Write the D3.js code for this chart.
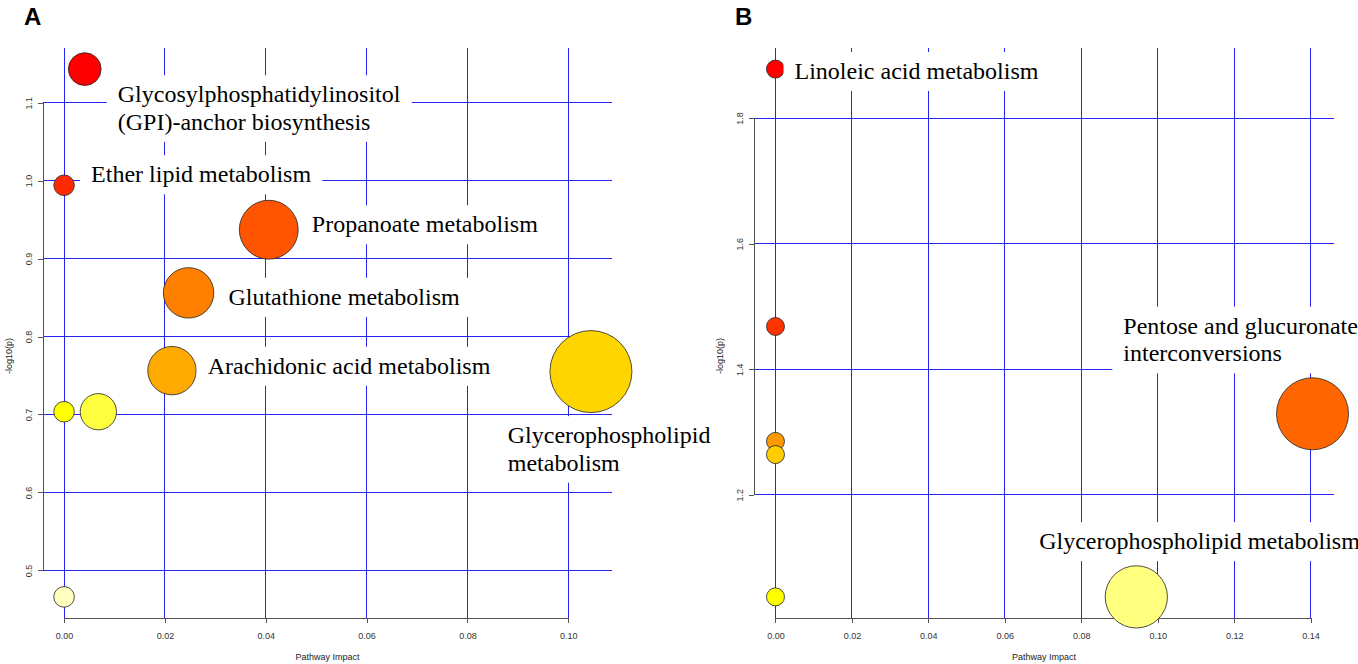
<!DOCTYPE html>
<html>
<head>
<meta charset="utf-8">
<script src="https://cdn.jsdelivr.net/npm/d3@7"></script>
<style>
  body { margin: 0; background: #fff; }
  svg { display: block; }
</style>
</head>
<body>
<svg width="1358" height="664"></svg>
<script>
// ---- panel A data ----
var impactA = [0.0041, 0, 0.0406, 0.0247, 0.0214, 0.1045, 0, 0.0068, 0];
var logpA   = [1.143, 0.994, 0.937, 0.856, 0.7562, 0.755, 0.7035, 0.7035, 0.466];
var xTicksA = [0, 0.02, 0.04, 0.06, 0.08, 0.10];
var yTicksA = [0.5, 0.6, 0.7, 0.8, 0.9, 1.0, 1.1];
// label text, anchored in data units (x of text start, y of first baseline)
var labelsA = [
  { lines: ["Glycosylphosphatidylinositol", "(GPI)-anchor biosynthesis"], x: 0.01065, y: 1.1004 },
  { lines: ["Ether lipid metabolism"], x: 0.00536, y: 0.9978 },
  { lines: ["Propanoate metabolism"], x: 0.04915, y: 0.9337 },
  { lines: ["Glutathione metabolism"], x: 0.0326, y: 0.8406 },
  { lines: ["Arachidonic acid metabolism"], x: 0.0285, y: 0.7522 },
  { lines: ["Glycerophospholipid", "metabolism"], x: 0.0880, y: 0.6632 }
];

// ---- panel B data ----
var impactB = [0, 0, 0.1405, 0, 0, 0, 0.0944];
var logpB   = [1.878, 1.468, 1.329, 1.285, 1.264, 1.0373, 1.0373];
var xTicksB = [0, 0.02, 0.04, 0.06, 0.08, 0.10, 0.12, 0.14];
var yTicksB = [1.2, 1.4, 1.6, 1.8];
var labelsB = [
  { lines: ["Linoleic acid metabolism"], x: 0.00498, y: 1.8622 },
  { lines: ["Pentose and glucuronate", "interconversions"], x: 0.0910, y: 1.4565 },
  { lines: ["Glycerophospholipid metabolism"], x: 0.0690, y: 1.1134 }
];

var svg = d3.select("svg");
svg.append("rect").attr("width", 1358).attr("height", 664).attr("fill", "#fff");

// R style heat.colors(n)
function hsv(h, s, v) {
  var i = Math.floor(h * 6), f = h * 6 - i;
  var p = v * (1 - s), q = v * (1 - s * f), t = v * (1 - s * (1 - f));
  var rgb = [[v, t, p], [q, v, p], [p, v, t], [p, q, v], [t, p, v], [v, p, q]][i % 6];
  return d3.rgb(rgb[0] * 255, rgb[1] * 255, rgb[2] * 255).formatHex();
}
function heatColors(n) {
  var j = Math.floor(n / 4), i = n - j, out = [];
  for (var k = 0; k < i; k++) out.push(hsv(i > 1 ? k / (i - 1) / 6 : 0, 1, 1));
  for (var k = 0; k < j; k++) {
    var s0 = 1 - 1 / (2 * j), s1 = 1 / (2 * j);
    out.push(hsv(1 / 6, j > 1 ? s0 + (s1 - s0) * k / (j - 1) : s0, 1));
  }
  return out;
}

function pad(ext) {
  var d = (ext[1] - ext[0]) * 0.04;
  return [ext[0] - d, ext[1] + d];
}

function drawPanel(letter, impact, logp, xTicks, yTicks, labels, box, rRange) {
  var g = svg.append("g");
  var x = d3.scaleLinear().domain(pad(d3.extent(impact))).range([box.left, box.right]);
  var y = d3.scaleLinear().domain(pad(d3.extent(logp))).range([box.bottom, box.top]);
  var r = d3.scaleSqrt().domain([0, d3.max(impact)]).range(rRange);

  // colours by rank of -log10(p)
  var pts = impact.map(function(d, i) { return { impact: d, logp: logp[i] }; });
  var ranked = pts.slice().sort(function(a, b) { return b.logp - a.logp; });
  var cols = heatColors(pts.length);
  ranked.forEach(function(p, i) { p.color = cols[i]; });

  // grid
  g.selectAll(".vg").data(xTicks).enter().append("line")
    .attr("x1", function(d) { return x(d); }).attr("x2", function(d) { return x(d); })
    .attr("y1", box.top).attr("y2", box.bottom)
    .style("stroke", "#2424f4").style("stroke-width", 1).style("shape-rendering", "crispEdges");
  g.selectAll(".hg").data(yTicks).enter().append("line")
    .attr("x1", box.left).attr("x2", box.right)
    .attr("y1", function(d) { return y(d); }).attr("y2", function(d) { return y(d); })
    .style("stroke", "#2424f4").style("stroke-width", 1).style("shape-rendering", "crispEdges");

  // axes
  var xa = g.append("g").attr("transform", "translate(0," + box.bottom + ")")
    .call(d3.axisBottom(x).tickValues(xTicks).tickFormat(d3.format(".2f")).tickSize(5).tickSizeOuter(0).tickPadding(9.5));
  var ya = g.append("g").attr("transform", "translate(" + box.left + ",0)")
    .call(d3.axisLeft(y).tickValues(yTicks).tickFormat(d3.format(".1f")).tickSize(5).tickSizeOuter(0));
  [xa, ya].forEach(function(a) {
    a.select(".domain").remove();
    a.selectAll("line").style("stroke", "#555").style("shape-rendering", "crispEdges");
    a.selectAll("text").style("font-family", "'Liberation Sans', Arial, sans-serif")
      .style("font-size", "9px").style("fill", "#333");
  });
  ya.selectAll("text").attr("x", null).attr("dy", null).attr("text-anchor", "middle")
    .attr("transform", "translate(-11.5,0) rotate(-90)");
  g.append("line").attr("x1", x(xTicks[0])).attr("x2", x(xTicks[xTicks.length - 1]))
    .attr("y1", box.bottom).attr("y2", box.bottom).style("stroke", "#555").style("shape-rendering", "crispEdges");
  g.append("line").attr("x1", box.left).attr("x2", box.left)
    .attr("y1", y(yTicks[0])).attr("y2", y(yTicks[yTicks.length - 1])).style("stroke", "#555").style("shape-rendering", "crispEdges");

  g.append("text").text("Pathway Impact")
    .attr("x", (box.left + box.right) / 2).attr("y", 660).attr("text-anchor", "middle")
    .style("font-family", "'Liberation Sans', Arial, sans-serif").style("font-size", "9px").style("fill", "#222");
  g.append("text").text("-log10(p)")
    .attr("transform", "translate(" + (box.left - 31.5) + ",356) rotate(-90)").attr("text-anchor", "middle")
    .style("font-family", "'Liberation Sans', Arial, sans-serif").style("font-size", "9px").style("fill", "#222");

  // bubbles
  g.selectAll("circle").data(pts).enter().append("circle")
    .attr("cx", function(d) { return x(d.impact); })
    .attr("cy", function(d) { return y(d.logp); })
    .attr("r", function(d) { return r(d.impact); })
    .style("fill", function(d) { return d.color; })
    .style("stroke", "#222").style("stroke-width", 0.8);

  // labels on white boxes
  labels.forEach(function(l) {
    var lg = g.append("g");
    var bg = lg.append("rect").style("fill", "#fff");
    var t = lg.append("text")
      .style("font-family", "'Liberation Serif', 'Times New Roman', serif")
      .style("font-size", "24px").style("fill", "#000");
    l.lines.forEach(function(s, i) {
      t.append("tspan").attr("x", x(l.x)).attr("y", y(l.y) + i * 27.6).text(s);
    });
    var bb = t.node().getBBox();
    bg.attr("x", bb.x - 11).attr("y", bb.y - 6).attr("width", bb.width + 22).attr("height", bb.height + 13);
  });

  svg.append("text").text(letter).attr("x", box.left - 19).attr("y", 24.5)
    .style("font-family", "'Liberation Sans', Arial, sans-serif").style("font-weight", "bold")
    .style("font-size", "24px");
}

drawPanel("A", impactA, logpA, xTicksA, yTicksA, labelsA, { left: 43, right: 612, top: 48, bottom: 618 }, [10.3, 41]);
drawPanel("B", impactB, logpB, xTicksB, yTicksB, labelsB, { left: 754, right: 1334, top: 48, bottom: 618 }, [9, 36]);
</script>
</body>
</html>
